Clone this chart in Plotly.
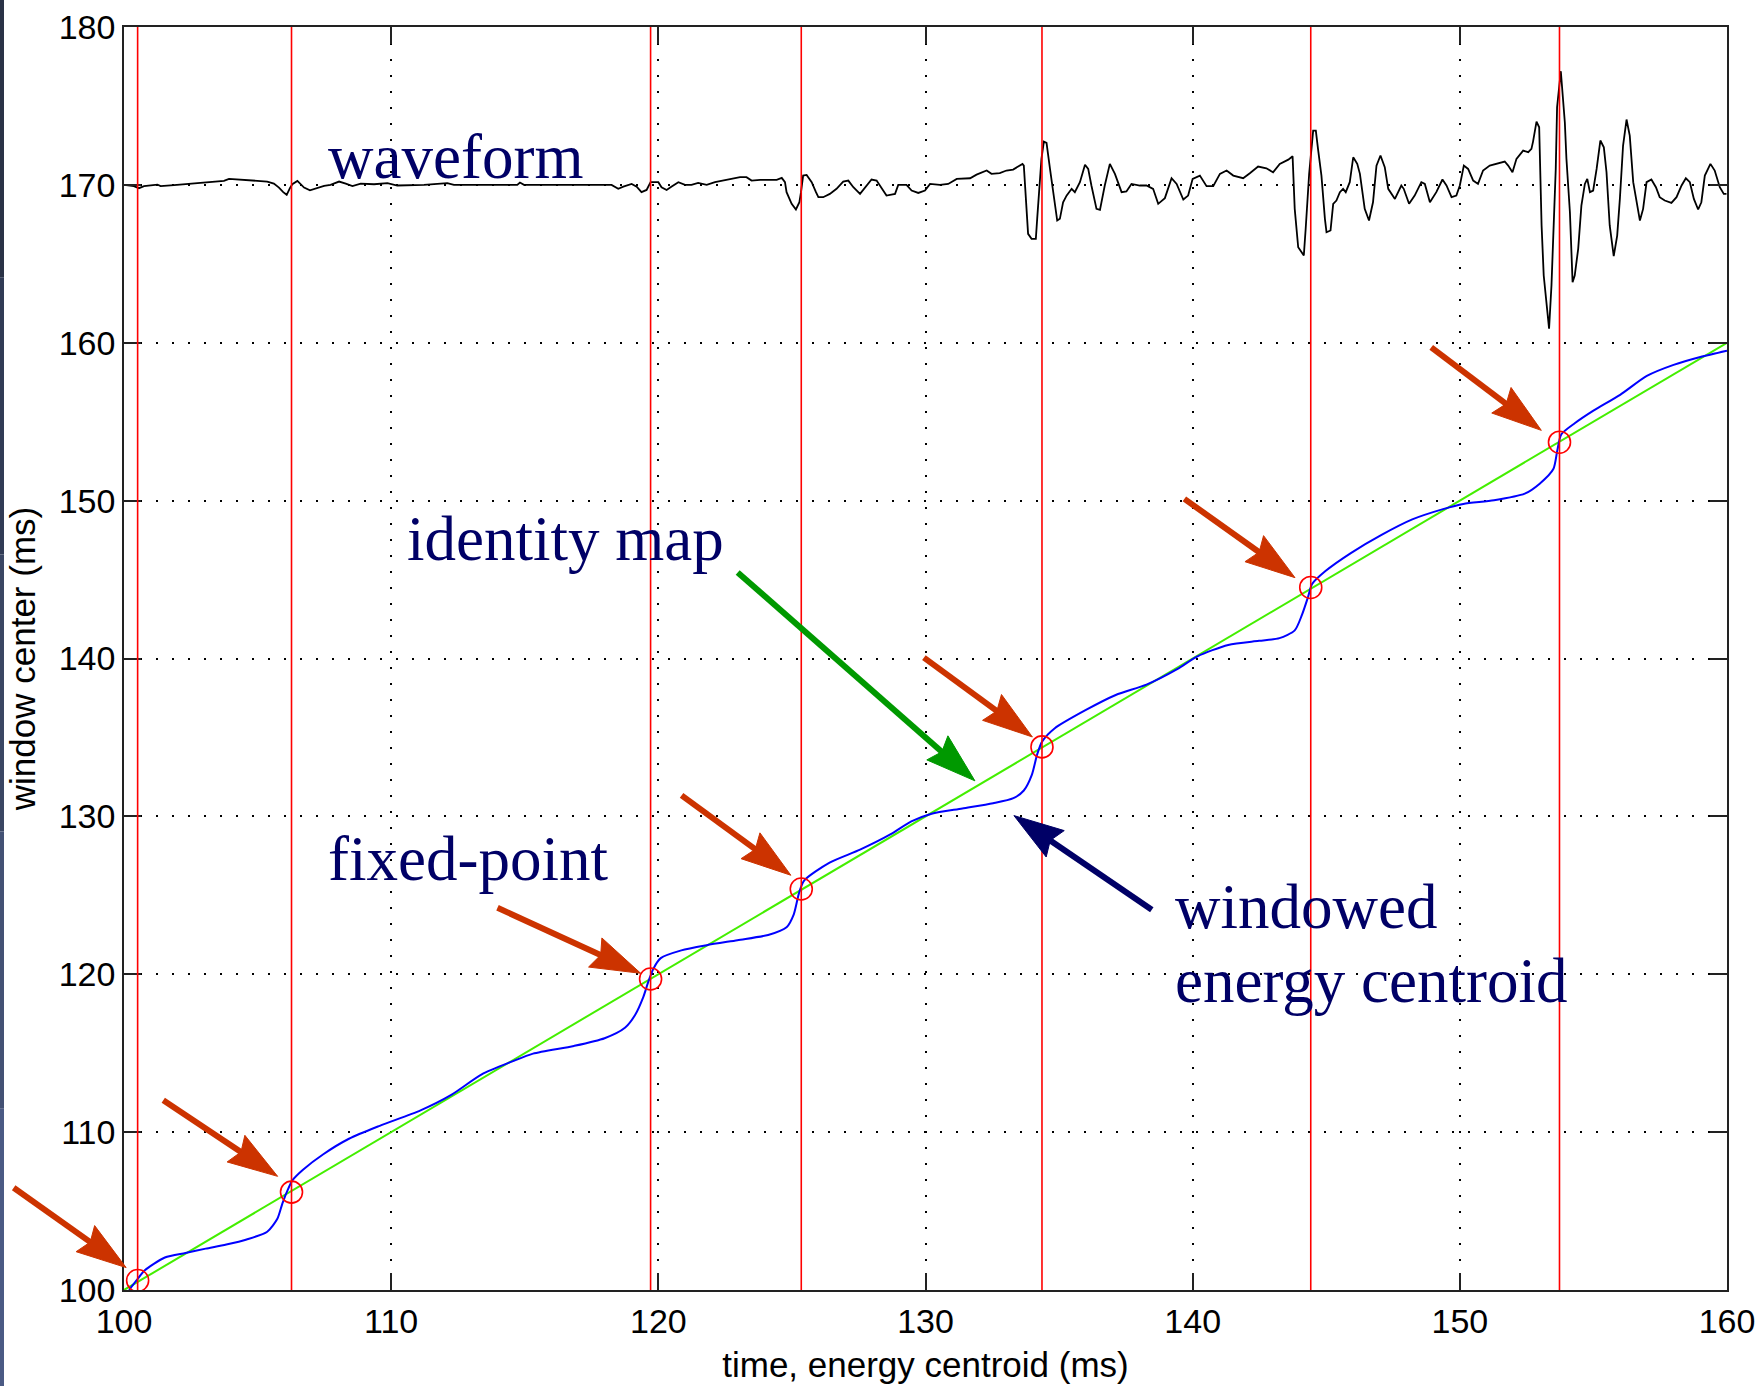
import math
import plotly.graph_objects as go

# ---------------- data ----------------
fixed_x = [100.51, 106.27, 119.71, 125.35, 134.36, 144.42, 153.73]
fixed_y = [100.6, 106.2, 119.7, 125.4, 134.4, 144.5, 153.7]

ident_x = [100, 160]
ident_y = [100, 160]

cent_x = [100.19, 100.46, 100.77, 101.53, 102.30, 103.06, 103.83, 104.59, 105.36, 105.74,
          105.93, 106.12, 106.31, 106.70, 107.46, 108.42, 109.57, 111.10, 112.25, 113.39,
          114.54, 115.31, 116.84, 117.99, 118.75, 119.13, 119.44, 119.63, 119.82, 120.09,
          120.86, 121.81, 122.96, 124.11, 124.80, 125.07, 125.26, 125.45, 126.41, 127.55,
          128.70, 129.47, 130.23, 131.38, 132.53, 133.29, 133.68, 133.98, 134.18, 134.37,
          134.83, 135.97, 137.12, 138.27, 139.42, 140.18, 141.33, 142.48, 143.25, 143.82,
          144.09, 144.32, 144.47, 144.97, 145.92, 147.07, 148.22, 149.37, 150.13, 151.28,
          152.43, 153.00, 153.50, 153.65, 153.80, 154.30, 155.00, 156.00, 157.00, 158.00,
          159.00, 160.00]
cent_y = [100.00, 100.59, 101.24, 102.06, 102.35, 102.62, 102.88, 103.20, 103.69, 104.51,
          105.49, 106.31, 106.96, 107.62, 108.60, 109.58, 110.40, 111.38, 112.36, 113.66,
          114.48, 114.97, 115.46, 115.95, 116.61, 117.42, 118.57, 119.55, 120.37, 121.02,
          121.51, 121.84, 122.16, 122.49, 122.98, 123.80, 125.11, 125.92, 127.07, 127.89,
          128.87, 129.68, 130.17, 130.50, 130.83, 131.15, 131.64, 132.63, 133.93, 134.75,
          135.57, 136.71, 137.69, 138.35, 139.33, 140.14, 140.86, 141.12, 141.29, 141.78,
          142.76, 143.90, 144.72, 145.54, 146.68, 147.83, 148.81, 149.46, 149.79, 150.02,
          150.44, 151.09, 152.00, 153.20, 154.20, 154.90, 155.70, 156.70, 157.90, 158.60,
          159.10, 159.50]

wave_x = [100.00, 100.37, 100.56, 100.75, 101.25, 101.37, 101.87, 102.31, 103.12, 103.74,
          103.93, 104.37, 104.74, 105.36, 105.61, 105.80, 105.96, 106.09, 106.21, 106.30,
          106.49, 106.74, 106.96, 107.24, 107.49, 107.73, 108.05, 108.30, 108.55, 108.86,
          109.36, 109.86, 110.23, 111.23, 112.10, 112.35, 114.72, 114.82, 114.97, 117.50,
          117.81, 118.25, 118.50, 118.69, 119.00, 119.19, 119.37, 119.56, 119.71, 120.00,
          120.12, 120.31, 120.50, 120.75, 121.00, 121.24, 121.49, 121.81, 122.12, 122.43,
          122.81, 123.06, 123.30, 123.49, 123.81, 124.05, 124.43, 124.62, 124.74, 124.80,
          124.99, 125.15, 125.28, 125.34, 125.42, 125.55, 125.74, 125.90, 125.99, 126.17,
          126.42, 126.67, 126.92, 127.11, 127.30, 127.55, 127.80, 127.98, 128.17, 128.36,
          128.54, 128.86, 128.98, 129.29, 129.48, 129.73, 129.98, 130.17, 130.54, 130.85,
          131.17, 131.67, 131.91, 132.29, 132.47,
          132.78, 133.03, 133.28, 133.47, 133.63, 133.68, 133.78, 133.84, 133.97, 134.13,
          134.18, 134.28, 134.34, 134.43, 134.53, 134.66, 134.81, 134.93, 135.03, 135.15,
          135.28, 135.47, 135.59, 135.78, 135.97, 136.09, 136.21, 136.40, 136.53, 136.71,
          136.90, 137.09, 137.34, 137.52, 137.71, 138.02, 138.27, 138.52, 138.71, 138.96,
          139.21, 139.40, 139.65, 139.83, 140.00, 140.27, 140.52, 140.77, 141.02, 141.27,
          141.52, 141.89, 142.14, 142.45, 142.76, 143.01, 143.26, 143.58, 143.74, 143.82,
          143.95,
          144.16, 144.23, 144.36, 144.51, 144.61, 144.70, 144.82, 144.95, 145.01, 145.16,
          145.26, 145.38, 145.51, 145.63, 145.73, 145.88, 146.01, 146.16, 146.26, 146.44,
          146.60, 146.75, 146.88, 147.03, 147.19, 147.32, 147.57, 147.81, 147.90, 148.10,
          148.31, 148.56, 148.69, 148.88, 149.12, 149.35, 149.50, 149.69, 149.87, 150.00,
          150.15, 150.31, 150.50, 150.68, 150.87, 151.12, 151.49,
          151.68, 151.81, 151.97, 152.12, 152.37, 152.56, 152.68, 152.74, 152.87, 152.97,
          153.06, 153.14, 153.24, 153.34, 153.43, 153.52, 153.59, 153.64, 153.78, 153.93,
          153.99, 154.12, 154.22, 154.30, 154.43, 154.55, 154.68, 154.77, 154.87, 154.99,
          155.12, 155.26, 155.39, 155.49, 155.61, 155.76, 155.89, 155.99, 156.11, 156.24,
          156.36, 156.49, 156.61, 156.74, 156.86, 156.99, 157.17, 157.34, 157.48, 157.67,
          157.92, 158.11, 158.30, 158.46, 158.61, 158.76, 158.92, 159.04, 159.17, 159.38,
          159.54, 159.73, 159.88, 159.98]
wave_y = [170.00, 169.92, 169.79, 169.92, 170.02, 169.92, 169.98, 170.04, 170.15, 170.25,
          170.38, 170.34, 170.30, 170.21, 170.08, 169.83, 169.54, 169.37, 169.79, 170.04,
          170.25, 169.83, 169.66, 169.83, 169.94, 170.00, 170.21, 170.08, 169.92, 170.08,
          170.04, 170.11, 169.96, 170.00, 170.11, 170.00, 170.00, 170.15, 170.00, 170.00,
          170.00, 170.00, 169.75, 169.89, 170.06, 169.89, 169.54, 169.68, 170.17, 170.17,
          169.85, 169.68, 169.89, 170.17, 170.00, 170.00, 170.13, 170.00, 170.17, 170.27,
          170.38, 170.49, 170.49, 170.27, 170.32, 170.32, 170.32, 170.44, 170.17, 169.54,
          168.80, 168.44, 168.90, 169.54, 170.59, 170.63, 170.17, 169.54, 169.22, 169.22,
          169.43, 169.75, 170.21, 170.27, 169.85, 169.43, 169.96, 170.34, 170.27, 169.75,
          169.32, 169.43, 170.00, 170.00, 169.64, 169.49, 169.64, 170.06, 170.00, 170.06,
          170.38, 170.42, 170.65, 170.91, 170.70,
          170.74, 170.91, 170.97, 171.16, 171.33, 171.22, 168.69, 166.90, 166.58, 166.58,
          167.85, 170.38, 171.65, 172.74, 172.66, 171.01, 169.32, 167.74, 167.85, 168.90,
          169.32, 169.75, 169.54, 170.17, 171.27, 171.01, 169.96, 168.48, 168.42, 169.96,
          171.33, 170.70, 169.54, 169.58, 170.06, 169.96, 169.96, 169.75, 168.80, 169.16,
          170.42, 170.06, 169.07, 169.32, 170.38, 170.59, 169.92, 169.92, 170.70, 170.91,
          170.59, 170.42, 170.74, 171.16, 171.05, 170.80, 171.33, 171.60, 171.81, 168.48,
          166.05,
          165.53, 167.22, 170.70, 173.44, 173.44, 172.17, 170.59, 167.85, 167.00, 167.11,
          168.80, 169.01, 169.54, 169.75, 169.54, 170.17, 171.75, 171.33, 170.70, 168.48,
          167.74, 168.90, 171.22, 171.86, 171.12, 169.75, 169.11, 169.96, 169.75, 168.80,
          169.32, 170.17, 170.06, 168.90, 169.54, 170.34, 169.96, 169.22, 169.32, 169.96,
          171.22, 171.01, 170.27, 170.06, 170.91, 171.22, 171.37,
          171.48, 171.22, 170.80, 171.65, 172.17, 172.07, 172.28, 172.74, 174.01, 173.65,
          167.43, 164.26, 162.36, 160.89, 163.63, 167.85, 171.01, 174.92, 177.20, 173.97,
          171.65, 168.27, 163.84, 164.26, 165.95, 168.69, 170.06, 170.38, 169.54, 169.64,
          171.01, 172.81, 172.38, 170.80, 167.43, 165.49, 166.79, 169.11, 172.49, 174.14,
          173.12, 170.17, 168.90, 167.74, 168.48, 170.17, 170.34, 169.85, 169.22, 169.01,
          168.86, 169.22, 169.96, 170.42, 170.17, 169.11, 168.44, 168.90, 170.59, 171.33,
          170.91, 169.85, 169.43, 169.43]

x_ticks = [100, 110, 120, 130, 140, 150, 160]
y_ticks = [100, 110, 120, 130, 140, 150, 160, 170, 180]

labels = ["waveform", "identity map", "fixed-point", "windowed", "energy centroid"]
label_x = [107.56, 110.52, 107.56, 139.26, 139.26]
label_y = [171.77, 147.59, 127.28, 124.24, 119.56]

arrow_tail_x = [95.87, 101.47, 113.98, 120.87, 129.94, 139.69, 148.93, 122.97, 138.47]
arrow_tail_y = [106.48, 112.02, 124.21, 131.33, 140.06, 150.11, 159.71, 145.45, 124.08]
arrow_tip_x = [100.08, 105.75, 119.34, 124.96, 134.00, 143.83, 153.05, 131.85, 133.31]
arrow_tip_y = [101.42, 107.20, 120.06, 126.27, 135.03, 145.12, 154.45, 132.25, 130.05]
arrow_color = ["#CC3300"] * 7 + ["#009900", "#000066"]

# ---------------- layout geometry ----------------
FIG_W, FIG_H = 1764, 1386
ML, MR, MT, MB = 124, 37, 27, 96
PW, PH = FIG_W - ML - MR, FIG_H - MT - MB
X0, X1, Y0, Y1 = 100, 160, 100, 180

AXIS_FONT = dict(family="Liberation Sans, Arial, sans-serif", size=34, color="#000000")
TITLE_FONT = dict(family="Liberation Sans, Arial, sans-serif", size=35, color="#000000")
TEXT_FONT = dict(family="Liberation Serif, Times New Roman, serif", size=63, color="#000066")

fig = go.Figure()

fig.add_trace(go.Scatter(x=ident_x, y=ident_y, mode="lines",
                         line=dict(color="#44EE00", width=2), hoverinfo="skip"))
fig.add_trace(go.Scatter(x=cent_x, y=cent_y, mode="lines",
                         line=dict(color="#0000FF", width=2, shape="spline", smoothing=0.7),
                         hoverinfo="skip"))
fig.add_trace(go.Scatter(x=fixed_x, y=fixed_y, mode="markers",
                         marker=dict(symbol="circle-open", size=22, color="#FF0000",
                                     line=dict(width=1.6, color="#FF0000")),
                         hoverinfo="skip"))
fig.add_trace(go.Scatter(x=wave_x, y=wave_y, mode="lines",
                         line=dict(color="#000000", width=1.8), hoverinfo="skip"))


def to_px(x, y):
    return (ML + (x - X0) / (X1 - X0) * PW, MT + (Y1 - y) / (Y1 - Y0) * PH)


def to_paper(px, py):
    return ((px - ML) / PW, 1 - (py - MT) / PH)


axis_common = dict(showline=True, linecolor="#222222", linewidth=1.6, mirror="ticks",
                   ticks="inside", ticklen=17, tickwidth=1.6, tickcolor="#222222",
                   showgrid=True, gridcolor="#000000", gridwidth=1.6, griddash="2px,14px",
                   zeroline=False, tickfont=AXIS_FONT, automargin=False)

fig.update_layout(
    width=FIG_W, height=FIG_H,
    margin=dict(l=ML, r=MR, t=MT, b=MB),
    paper_bgcolor="#FFFFFF", plot_bgcolor="#FFFFFF",
    showlegend=False,
    xaxis=dict(range=[X0, X1], tickvals=x_ticks, ticktext=[str(v) for v in x_ticks],
               title=dict(text="time, energy centroid (ms)", font=TITLE_FONT, standoff=14),
               **axis_common),
    yaxis=dict(range=[Y0, Y1], tickvals=y_ticks, ticktext=[str(v) for v in y_ticks],
               title=dict(text="window center (ms)", font=TITLE_FONT, standoff=12),
               **axis_common),
)

# red vertical lines through the fixed points
for fx in fixed_x:
    fig.add_shape(type="line", xref="x", yref="y domain", x0=fx, x1=fx, y0=0, y1=1,
                  line=dict(color="#FF0000", width=1.6), layer="above")

# left dark border strip of the slide
strip_cols = ["#2a3246", "#313b55", "#3a4663", "#435174", "#4b5a84"]
for i, c in enumerate(strip_cols):
    ya = FIG_H * i / len(strip_cols)
    yb = FIG_H * (i + 1) / len(strip_cols)
    xa, ya_p = to_paper(0, ya)
    xb, yb_p = to_paper(4, yb)
    fig.add_shape(type="rect", xref="paper", yref="paper", x0=xa, x1=xb,
                  y0=yb_p, y1=ya_p, fillcolor=c, line=dict(width=0), layer="above")

# annotation arrows
HL, HW, SW = 50, 16, 6
for tx, ty, hx, hy, col in zip(arrow_tail_x, arrow_tail_y, arrow_tip_x, arrow_tip_y, arrow_color):
    ax_, ay_ = to_px(tx, ty)
    bx_, by_ = to_px(hx, hy)
    dx, dy = bx_ - ax_, by_ - ay_
    d = math.hypot(dx, dy)
    ux, uy = dx / d, dy / d
    nx, ny = -uy, ux
    sx, sy = bx_ - 0.8 * HL * ux, by_ - 0.8 * HL * uy
    p0 = to_paper(ax_, ay_)
    p1 = to_paper(sx, sy)
    fig.add_shape(type="line", xref="paper", yref="paper", x0=p0[0], y0=p0[1],
                  x1=p1[0], y1=p1[1], line=dict(color=col, width=SW), layer="above")
    pts = [(bx_, by_),
           (bx_ - HL * ux + HW * nx, by_ - HL * uy + HW * ny),
           (bx_ - 0.88 * HL * ux, by_ - 0.88 * HL * uy),
           (bx_ - HL * ux - HW * nx, by_ - HL * uy - HW * ny)]
    pp = [to_paper(a, b) for a, b in pts]
    path = "M " + " L ".join(f"{a:.6f},{b:.6f}" for a, b in pp) + " Z"
    fig.add_shape(type="path", xref="paper", yref="paper", path=path,
                  fillcolor=col, line=dict(color=col, width=1), layer="above")

for t, lx, ly in zip(labels, label_x, label_y):
    fig.add_annotation(text=t, x=lx, y=ly, xref="x", yref="y", showarrow=False,
                       xanchor="left", yanchor="middle", font=TEXT_FONT)

fig.write_html("out.html", post_script="document.body.style.margin='0';")
